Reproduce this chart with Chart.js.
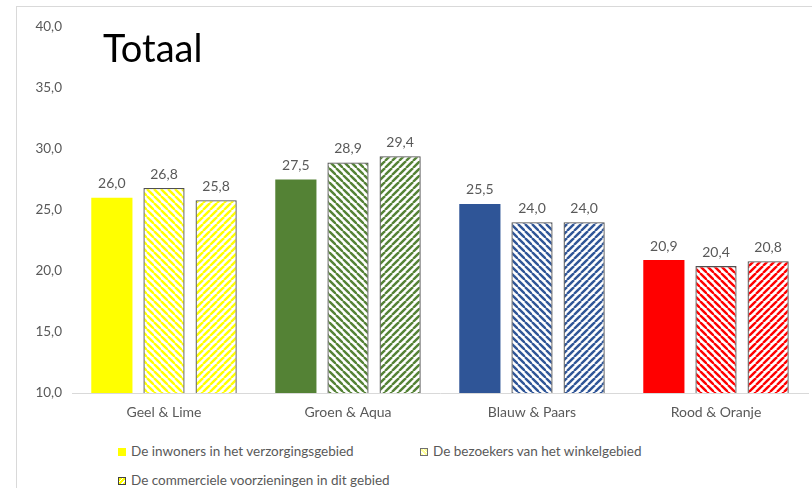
<!DOCTYPE html>
<html>
<head>
<meta charset="utf-8">
<script src="https://cdn.jsdelivr.net/npm/chart.js@4.4.0/dist/chart.umd.min.js"></script>
<style>
  body { margin: 0; background: #fff; font-family: Lato, "Open Sans", sans-serif; }
  #frame { position: absolute; left: 16px; top: 6px; width: 820px; height: 500px; border: 1px solid #d9d9d9; }
  #wrap { position: absolute; left: 0; top: 0; width: 812px; height: 420px; }
  #titel { position: absolute; left: 103px; top: 24px; font-size: 38px; color: #000; }
  .leg { position: absolute; font-size: 13.5px; color: #595959; white-space: nowrap; line-height: 16px; }
  .leg i { display: inline-block; width: 8px; height: 8px; margin-right: 5px; vertical-align: 0px; box-sizing: border-box; }
</style>
</head>
<body>
<div id="frame"></div>
<div id="wrap"><canvas id="grafiek"></canvas></div>
<div id="titel">Totaal</div>
<div id="legenda"></div>
<script>
const categorieen = ['Geel & Lime', 'Groen & Aqua', 'Blauw & Paars', 'Rood & Oranje'];
const reeksNamen = ['De inwoners in het verzorgingsgebied', 'De bezoekers van het winkelgebied', 'De commerciele voorzieningen in dit gebied'];
const inwoners = [26.0, 27.5, 25.5, 20.9];
const bezoekers = [26.8, 28.9, 24.0, 20.4];
const voorzieningen = [25.8, 29.4, 24.0, 20.8];
const kleuren = ['#ffff00', '#548235', '#2f5597', '#ff0000'];
const yMin = 10, yMax = 40, yStap = 5;

// streepjespatroon maken, richting 1 = "\" en -1 = "/"
function arcering(kleur, richting) {
  const s = 7;
  const c = document.createElement('canvas');
  c.width = s; c.height = s;
  const g = c.getContext('2d');
  g.fillStyle = '#fff';
  g.fillRect(0, 0, s, s);
  g.strokeStyle = kleur;
  g.lineWidth = 2.4;
  for (let k = -1; k <= 1; k++) {
    g.beginPath();
    if (richting > 0) {
      g.moveTo(k * s, 0); g.lineTo(k * s + s, s);
    } else {
      g.moveTo(k * s, s); g.lineTo(k * s + s, 0);
    }
    g.stroke();
  }
  return g.createPattern(c, 'repeat');
}

const komma = v => v.toFixed(1).replace('.', ',');

const waardeLabels = {
  id: 'waardeLabels',
  afterDatasetsDraw(chart) {
    const ctx = chart.ctx;
    ctx.save();
    ctx.font = '14px Lato';
    ctx.fillStyle = '#595959';
    ctx.textAlign = 'center';
    ctx.textBaseline = 'bottom';
    chart.data.datasets.forEach((ds, i) => {
      chart.getDatasetMeta(i).data.forEach((bar, j) => {
        ctx.fillText(komma(ds.data[j]), bar.x, bar.y - 7);
      });
    });
    ctx.restore();
  }
};

const ctx = document.getElementById('grafiek').getContext('2d');
const grafiek = new Chart(ctx, {
  type: 'bar',
  data: {
    labels: categorieen,
    datasets: [{
      label: reeksNamen[0],
      data: inwoners,
      backgroundColor: kleuren,
      borderWidth: 0
    }, {
      label: reeksNamen[1],
      data: bezoekers,
      backgroundColor: kleuren.map(k => arcering(k, 1)),
      borderColor: '#505050',
      borderWidth: 1.3
    }, {
      label: reeksNamen[2],
      data: voorzieningen,
      backgroundColor: kleuren.map(k => arcering(k, -1)),
      borderColor: '#505050',
      borderWidth: 1.3
    }]
  },
  options: {
    responsive: true,
    maintainAspectRatio: false,
    animation: false,
    categoryPercentage: 0.85,
    barPercentage: 0.79,
    layout: { padding: { top: 27, right: 4, left: 0, bottom: 0 } },
    plugins: { legend: { display: false }, tooltip: { enabled: false } },
    scales: {
      x: {
        grid: { display: false, drawTicks: false },
        border: { color: '#d9d9d9', width: 1 },
        ticks: { color: '#595959', font: { family: 'Lato', size: 14 }, padding: 11 },
        afterFit: s => { s.height = 27; }
      },
      y: {
        min: yMin, max: yMax,
        grid: { display: false, drawTicks: false },
        border: { display: false },
        ticks: { stepSize: yStap, color: '#595959', font: { family: 'Lato', size: 13.5 }, padding: 10, callback: v => komma(v) },
        afterFit: s => { s.width = 72; }
      }
    }
  },
  plugins: [waardeLabels]
});

// legenda in html, zoals in het origineel op twee regels
const legPos = [[118, 443], [420, 443], [118, 472]];
const markers = [
  'background:#ffff00;',
  'background:repeating-linear-gradient(45deg,#ffff99 0 2px,#fff 2px 3px);border:1px solid #707070;',
  'background:repeating-linear-gradient(-45deg,#ffff00 0 2px,#fff 2px 3px);border:1.5px solid #404040;'
];
const legenda = document.getElementById('legenda');
reeksNamen.forEach((naam, i) => {
  const d = document.createElement('div');
  d.className = 'leg';
  d.style.left = legPos[i][0] + 'px';
  d.style.top = legPos[i][1] + 'px';
  d.innerHTML = '<i style="' + markers[i] + '"></i>' + naam;
  legenda.appendChild(d);
});
</script>
</body>
</html>
